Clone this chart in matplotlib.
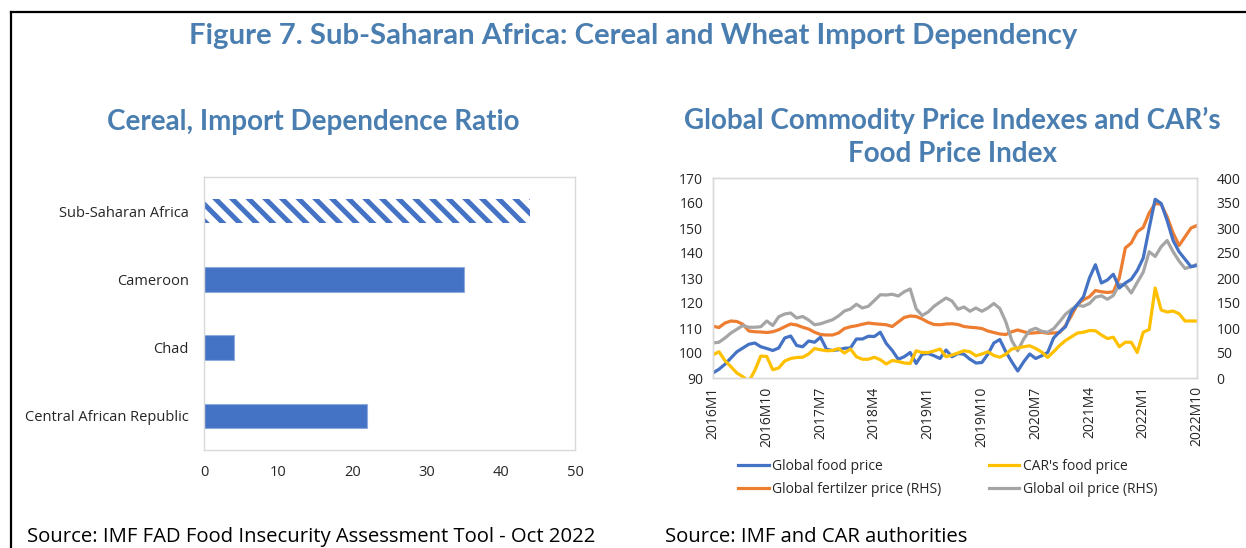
import numpy as np
import matplotlib
matplotlib.use("Agg")
import matplotlib.pyplot as plt
from matplotlib.lines import Line2D

plt.rcParams['font.family'] = ['Open Sans', 'DejaVu Sans']
plt.rcParams['hatch.linewidth'] = 3.6

# ---- data: cereal import dependence ratio ----
countries = ['Sub-Saharan Africa', 'Cameroon', 'Chad', 'Central African Republic']
dependence = [44, 35, 4, 22]

# ---- data: monthly price indexes, 2016M1 - 2022M10 ----
food_global = [92, 93.5, 95.5, 98, 100.5, 102, 103.5, 104, 102.5, 101.8,
               101, 102, 106, 106.8, 103, 102.5, 104.8, 104.3, 106.3, 101.5,
               101, 101.3, 101.9, 102, 105.6, 105.6, 106.7, 106.6, 108.3, 103.8,
               101, 97.5, 98.5, 100.2, 95.8, 99.5, 99.8, 98.9, 97.8, 101.2,
               98.5, 99.8, 99.5, 97.5, 96, 96.2, 99.5, 104, 105.4, 100.5,
               96.5, 92.8, 96.5, 99.6, 97.8, 98.9, 100.2, 106, 108.5, 110.5,
               116.5, 119.5, 122.5, 130, 135.3, 128, 129.2, 131.5, 126, 128,
               129.5, 133, 138, 150, 161.5, 159.8, 153, 145, 140.5, 137.5,
               134.5, 135]
food_car = [99.3, 100.5, 97, 94.5, 92, 90.5, 88.7, 93, 98.8, 98.6,
            93.3, 94, 96.8, 97.8, 98.2, 98.3, 99.6, 101.8, 101.3, 100.9,
            101, 101.8, 100, 101.6, 98.5, 97.5, 97.5, 98.3, 97.3, 95.6,
            97, 96.6, 96, 95.8, 100.9, 100.2, 100.2, 100.8, 101.6, 98.5,
            99.2, 100, 100.9, 100.5, 98.9, 99.6, 100.5, 99, 98.3, 99.5,
            101.6, 102, 102.5, 102.9, 101.8, 100.4, 98.2, 100.5, 103, 105,
            106.5, 108, 108.3, 109, 108.9, 107.2, 105.8, 106.3, 102.5, 104.3,
            104.3, 100.2, 108.3, 109.4, 126, 117.2, 116.4, 116.8, 115.7, 112.8,
            112.8, 112.8]
fertilizer = [103.5, 101, 110, 114, 113, 107.5, 94, 92.5, 92, 91,
              92.5, 96.5, 102.5, 108, 106, 101.5, 98, 91.5, 87, 86,
              86, 90, 99, 102.5, 104.5, 107.5, 110, 108.5, 107.5, 106.5,
              103, 112, 121, 124, 123, 118, 111.5, 107, 106.5, 108,
              108.5, 107, 103, 101.5, 100.5, 99, 94, 91, 88, 87,
              92.5, 96, 92.5, 89.5, 90.5, 91.5, 89.5, 90, 91, 105,
              125, 147.5, 156.5, 162.5, 175, 172.5, 171, 172.5, 200, 260,
              270, 292.5, 301, 330, 349, 347.5, 322.5, 290, 265, 282.5,
              300, 305]
oil = [70, 71.5, 80, 90, 97.5, 105, 101.5, 101.5, 102.5, 114,
       105, 122.5, 128, 130, 120, 123, 116, 106.5, 108.5, 112.5,
       116.5, 124, 134, 138, 147.5, 140, 143.5, 155, 166.5, 166,
       167.5, 164, 172.5, 178, 138.5, 125, 132, 143.5, 152, 160,
       154, 137.5, 142, 133.5, 140, 133.5, 140, 149, 139, 112.5,
       75, 54.5, 78, 95, 99.5, 93.5, 91.5, 98.5, 112.5, 127.5,
       137.5, 145.5, 143.5, 149, 161.5, 164.5, 157.5, 165, 187.5, 186,
       170, 191, 211.5, 252.5, 243, 262.5, 275, 252.5, 234, 219,
       222.5, 227.5]
tick_labels = ['2016M1', '2016M10', '2017M7', '2018M4', '2019M1',
               '2019M10', '2020M7', '2021M4', '2022M1', '2022M10']

BLUE = '#4472C4'
ORANGE = '#ED7D31'
GRAY = '#A5A5A5'
YELLOW = '#FFC000'
TITLE = '#4A7EB0'
TXT = '#262626'
GRID = '#D9D9D9'

W, H = 1246, 548
fig = plt.figure(figsize=(W / 100, H / 100), dpi=100)

# frame lines (left and top)
fig.add_artist(Line2D([11 / W, 11 / W], [0, 1 - 12 / H], color='black', lw=1.6))
fig.add_artist(Line2D([11 / W, 1], [1 - 12 / H, 1 - 12 / H], color='black', lw=1.6))

fig.text(633 / W, 1 - 36 / H, 'Figure 7. Sub-Saharan Africa: Cereal and Wheat Import Dependency',
         family='Lato', weight='bold', fontsize=21.2, color=TITLE, ha='center', va='center')
fig.text(313 / W, 1 - 122 / H, 'Cereal, Import Dependence Ratio',
         family='Lato', weight='bold', fontsize=20, color=TITLE, ha='center', va='center')
fig.text(952 / W, 1 - 137 / H, 'Global Commodity Price Indexes and CAR\u2019s\nFood Price Index',
         family='Lato', weight='bold', fontsize=20, color=TITLE, ha='center', va='center',
         linespacing=1.32)

# ---- left: bar chart ----
ax1 = fig.add_axes([204 / W, 1 - 450 / H, (575 - 204) / W, (450 - 177) / H])
ypos = np.arange(len(countries))
for i, (name, val) in enumerate(zip(countries, dependence)):
    if i == 0:
        ax1.barh(i, val, height=0.36, color='white', edgecolor=BLUE, hatch='\\\\', lw=0)
    else:
        ax1.barh(i, val, height=0.36, color=BLUE, edgecolor='#8FAADC', lw=0.8)
ax1.set_ylim(3.5, -0.5)
ax1.set_xlim(0, 50)
ax1.set_xticks([0, 10, 20, 30, 40, 50])
ax1.set_yticks(ypos)
ax1.set_yticklabels(countries)
ax1.tick_params(length=0, labelsize=10.5, colors=TXT)
ax1.tick_params(axis='x', pad=11)
ax1.tick_params(axis='y', pad=11)
for s in ax1.spines.values():
    s.set_color(GRID)
    s.set_linewidth(1.0)

# ---- right: line chart ----
x = np.arange(len(food_global))
ax2 = fig.add_axes([713 / W, 1 - 378 / H, (1197 - 713) / W, (378 - 178) / H])
ax3 = ax2.twinx()
l1, = ax2.plot(x, food_global, color=BLUE, lw=2.3, label='Global food price')
l2, = ax2.plot(x, food_car, color=YELLOW, lw=2.3, label="CAR's food price")
l3, = ax3.plot(x, fertilizer, color=ORANGE, lw=2.3, label='Global fertilzer price (RHS)')
l4, = ax3.plot(x, oil, color=GRAY, lw=2.3, label='Global oil price (RHS)')
ax2.set_zorder(ax3.get_zorder() + 1)
ax2.patch.set_visible(False)
ax2.set_xlim(0, len(x) - 1)
ax2.set_ylim(90, 170)
ax2.set_yticks(np.arange(90, 171, 10))
ax3.set_ylim(0, 400)
ax3.set_yticks(np.arange(0, 401, 50))
ax2.set_xticks(x[::9])
ax2.set_xticklabels(tick_labels, rotation=90)
for a in (ax2, ax3):
    a.tick_params(length=0, labelsize=10, colors=TXT)
    for s in a.spines.values():
        s.set_color(GRID)
        s.set_linewidth(1.0)
ax2.tick_params(axis='y', pad=7)
ax3.tick_params(axis='y', pad=14)
ax2.tick_params(axis='x', pad=6)

fig.legend([l1, l3, l2, l4], [h.get_label() for h in (l1, l3, l2, l4)],
           loc='upper left', bbox_to_anchor=(738 / W, 1 - 459 / H), ncol=2,
           frameon=False, fontsize=10, handlelength=2.2, handletextpad=0.25,
           columnspacing=3.4, labelspacing=0.6, borderpad=0, borderaxespad=0,
           labelcolor=TXT)

fig.text(27 / W, 1 - 537 / H, 'Source: IMF FAD Food Insecurity Assessment Tool - Oct 2022',
         fontsize=14.6, color='black', ha='left', va='center')
fig.text(665 / W, 1 - 537 / H, 'Source: IMF and CAR authorities',
         fontsize=14.6, color='black', ha='left', va='center')

fig.savefig('out.png', dpi=100)
